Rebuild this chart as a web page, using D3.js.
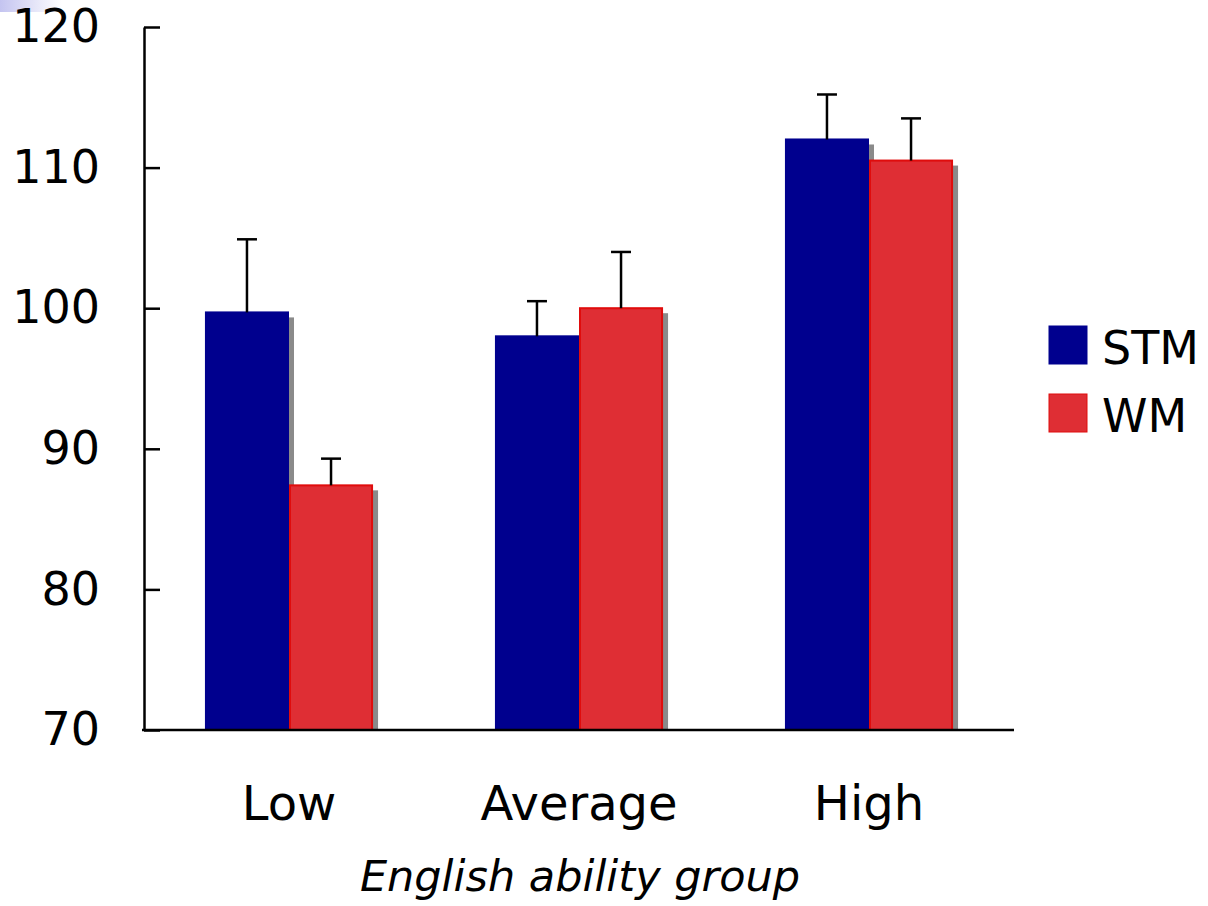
<!DOCTYPE html>
<html>
<head>
<meta charset="utf-8">
<script src="https://cdn.jsdelivr.net/npm/d3@7"></script>
<style>
  body { margin: 0; background: #fff; }
  svg { display: block; font-family: 'DejaVu Sans', Verdana, sans-serif; }
</style>
</head>
<body>
<svg id="chart"></svg>
<script>
// chart values
const groups = ['Low', 'Average', 'High'];
const seriesNames = ['STM', 'WM'];
const stmMeans = [99.7, 98.0, 112.0];
const wmMeans = [87.4, 100.0, 110.5];
const stmErrors = [5.2, 2.5, 3.2];
const wmErrors = [1.9, 4.0, 3.0];
const yTicks = [70, 80, 90, 100, 110, 120];
const xTitle = 'English ability group';

const width = 1208;
const height = 906;
const plotLeft = 144, plotRight = 1014, plotTop = 27, plotBottom = 730;

const fills = { STM: '#00008e', WM: '#df2e34' };
const strokes = { STM: '#00008e', WM: '#e00c0c' };

const svg = d3.select('#chart').attr('width', width).attr('height', height);

// small lavender artefact top-left of the slide
const defs = svg.append('defs');
const grad = defs.append('linearGradient').attr('id', 'corner').attr('x1', 0).attr('x2', 1);
grad.append('stop').attr('offset', '0%').attr('stop-color', '#c4c4f0');
grad.append('stop').attr('offset', '100%').attr('stop-color', '#ffffff');
svg.append('rect').attr('x', 0).attr('y', 0).attr('width', 62).attr('height', 12).attr('fill', 'url(#corner)');

const rows = groups.map((g, i) => ({
  group: g,
  values: [
    { key: 'STM', mean: stmMeans[i], err: stmErrors[i] },
    { key: 'WM', mean: wmMeans[i], err: wmErrors[i] }
  ]
}));

const x0 = d3.scaleBand().domain(groups).range([plotLeft, plotRight]).paddingInner(0).paddingOuter(0);
const x1 = d3.scaleBand().domain(seriesNames).range([0, x0.bandwidth()]).paddingInner(0).paddingOuter(0.725);
const y = d3.scaleLinear().domain([70, 120]).range([plotBottom, plotTop]);

const g = svg.append('g')
  .selectAll('g')
  .data(rows)
  .enter()
  .append('g')
  .attr('transform', d => `translate(${x0(d.group)},0)`);

// drop shadows first
g.selectAll('rect.shadow')
  .data(d => d.values)
  .enter()
  .append('rect')
  .attr('class', 'shadow')
  .attr('x', d => x1(d.key) + 5)
  .attr('y', d => y(d.mean) + 5)
  .attr('width', x1.bandwidth())
  .attr('height', d => plotBottom - y(d.mean) - 5)
  .style('fill', '#8a8a8a');

g.selectAll('rect.bar')
  .data(d => d.values)
  .enter()
  .append('rect')
  .attr('class', 'bar')
  .attr('x', d => x1(d.key) + 1)
  .attr('y', d => y(d.mean))
  .attr('width', x1.bandwidth() - 2)
  .attr('height', d => plotBottom - y(d.mean))
  .style('fill', d => fills[d.key])
  .style('stroke', d => strokes[d.key])
  .style('stroke-width', 2);

// error bars, upper side only
g.selectAll('line.err')
  .data(d => d.values)
  .enter()
  .append('line')
  .attr('x1', d => x1(d.key) + x1.bandwidth() / 2)
  .attr('x2', d => x1(d.key) + x1.bandwidth() / 2)
  .attr('y1', d => y(d.mean))
  .attr('y2', d => y(d.mean + d.err))
  .style('stroke', '#000')
  .style('stroke-width', 2.5);

g.selectAll('line.cap')
  .data(d => d.values)
  .enter()
  .append('line')
  .attr('x1', d => x1(d.key) + x1.bandwidth() / 2 - 10)
  .attr('x2', d => x1(d.key) + x1.bandwidth() / 2 + 10)
  .attr('y1', d => y(d.mean + d.err))
  .attr('y2', d => y(d.mean + d.err))
  .style('stroke', '#000')
  .style('stroke-width', 2.5);

// y axis, ticks pointing inward
const yAxis = svg.append('g')
  .attr('transform', `translate(${plotLeft},0)`)
  .call(d3.axisLeft(y).tickValues(yTicks).tickSizeInner(-16).tickSizeOuter(0).tickPadding(44));
yAxis.select('.domain').style('stroke', '#000').style('stroke-width', 2.5);
yAxis.selectAll('.tick line').style('stroke', '#000').style('stroke-width', 2.5);
yAxis.selectAll('.tick text')
  .style('font-size', '46px')
  .style('font-family', "'DejaVu Sans', Verdana, sans-serif")
  .style('fill', '#000');

// x axis line and category labels
const xAxis = svg.append('g')
  .attr('transform', `translate(0,${plotBottom})`)
  .call(d3.axisBottom(x0).tickSize(0).tickPadding(56));
xAxis.select('.domain').attr('d', `M${plotLeft - 2},0H${plotRight}`).style('stroke', '#000').style('stroke-width', 2.5);
xAxis.selectAll('.tick text')
  .style('font-size', '48px')
  .style('font-family', "'DejaVu Sans', Verdana, sans-serif")
  .style('fill', '#000');

svg.append('text')
  .attr('x', 580)
  .attr('y', 891)
  .attr('text-anchor', 'middle')
  .style('font-size', '43px')
  .style('font-style', 'italic')
  .text(xTitle);

// legend
const legend = svg.append('g')
  .selectAll('g')
  .data(seriesNames)
  .enter()
  .append('g')
  .attr('transform', (d, i) => `translate(1049,${326 + i * 68})`);

legend.append('rect')
  .attr('width', 38)
  .attr('height', 38)
  .style('fill', d => fills[d])
  .style('stroke', d => strokes[d])
  .style('stroke-width', 1);

legend.append('text')
  .attr('x', 53)
  .attr('y', 38)
  .style('font-size', '46px')
  .text(d => d);
</script>
</body>
</html>
